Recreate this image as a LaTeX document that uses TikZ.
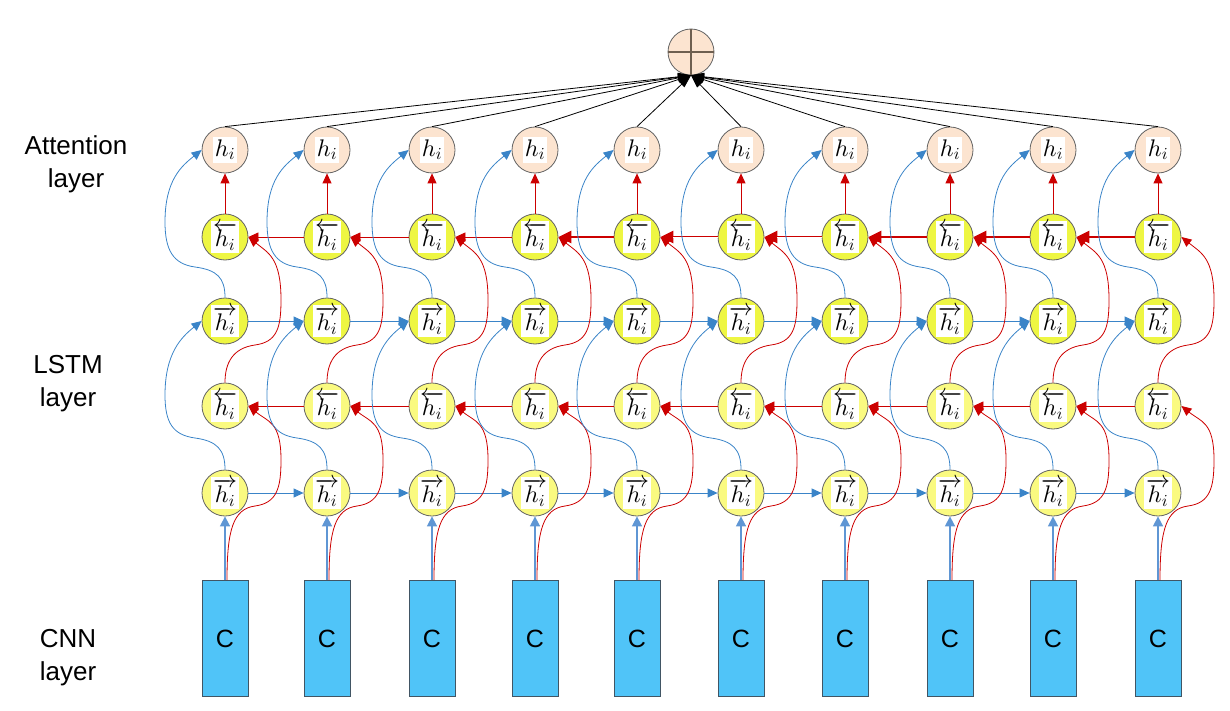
\documentclass[tikz,border=0pt]{standalone}
\usepackage{fontspec}
\newfontfamily\arialf{Liberation Sans}
\usetikzlibrary{arrows.meta,calc}

% scalable math fonts for the large state labels
\DeclareFontShape{OML}{cmm}{m}{it}{<->cmmi10}{}
\DeclareFontShape{OMS}{cmsy}{m}{n}{<->cmsy10}{}
\DeclareFontShape{OT1}{cmr}{m}{n}{<->cmr10}{}
\DeclareFontShape{OMX}{cmex}{m}{n}{<->cmex10}{}

\definecolor{attfill}{RGB}{252,228,208}
\definecolor{ybright}{RGB}{238,246,66}
\definecolor{ylight}{RGB}{250,250,128}
\definecolor{cnnfill}{RGB}{80,196,248}
\definecolor{cnnline}{RGB}{65,85,100}
\definecolor{edgeblue}{RGB}{58,132,200}
\definecolor{vertblue}{RGB}{95,150,212}
\definecolor{edgered}{RGB}{204,0,0}
\definecolor{nodeline}{RGB}{100,100,100}
\definecolor{plusline}{RGB}{110,95,80}

% white label box inside the state circles
\newcommand{\whitelab}[1]{{\setlength{\fboxsep}{2pt}\colorbox{white}{\rule[-4.5pt]{0pt}{21pt}$#1$}}}

\tikzset{
  statenode/.style={circle, draw=nodeline, line width=0.8pt, minimum size=46pt,
    inner sep=0pt, font=\fontsize{24}{28}\selectfont},
  attn/.style={statenode, fill=attfill},
  lstmtop/.style={statenode, fill=ybright},
  lstmbot/.style={statenode, fill=ylight},
  cnnbox/.style={rectangle, draw=cnnline, line width=0.8pt, fill=cnnfill,
    minimum width=46pt, minimum height=116pt, inner sep=0pt,
    font=\arialf\fontsize{25}{30}\selectfont},
  layerlabel/.style={align=center, font=\arialf\fontsize{26}{33}\selectfont},
  bluearrow/.style={edgeblue, line width=0.8pt, -{Triangle[length=10pt,width=9pt]}},
  bluevert/.style={vertblue, line width=1.6pt, -{Triangle[length=10pt,width=10pt]}},
  redarrow/.style={edgered, line width=0.8pt, -{Triangle[length=10pt,width=9pt]}},
  redthick/.style={edgered, line width=2.4pt, -{Triangle[length=13pt,width=12pt]}},
  redinner/.style={white, line width=0.9pt, shorten >=13pt},
  blackarrow/.style={black, line width=0.8pt, -{Triangle[length=13pt,width=8pt]}},
}

\begin{document}
\begin{tikzpicture}[x=1pt,y=-1pt]
\path[use as bounding box] (0,0) rectangle (1230,711);

% summation node on top
\node[attn, minimum size=46pt] (plus) at (691,52) {};
\draw[plusline, line width=1.6pt] (plus.north) -- (plus.south) (plus.west) -- (plus.east);

% layer names
\node[layerlabel] (lab-att) at (76,164) {Attention\\layer};
\node[layerlabel] (lab-lstm) at (68,384) {LSTM\\layer};
\node[layerlabel] (lab-cnn) at (68,658) {CNN\\layer};

% columns of units
\foreach \i/\x in {1/225,2/327,3/432,4/535,5/637,6/741,7/845,8/950,9/1053,10/1158} {
  \node[attn]    (att-\i) at (\x,150) {\whitelab{h_i}};
  \node[lstmtop] (b2-\i)  at (\x,237) {\whitelab{\overleftarrow{h_i}}};
  \node[lstmtop] (f2-\i)  at (\x,321) {\whitelab{\overrightarrow{h_i}}};
  \node[lstmbot] (b1-\i)  at (\x,406) {\whitelab{\overleftarrow{h_i}}};
  \node[lstmbot] (f1-\i)  at (\x,493) {\whitelab{\overrightarrow{h_i}}};
  \node[cnnbox]  (cnn-\i) at (\x,638.5) {C};
}

% recurrent connections along each row
\foreach \i [evaluate=\i as \j using int(\i+1)] in {1,...,9} {
  \draw[bluearrow] (f1-\i) -- (f1-\j);
  \draw[bluearrow] (f2-\i) -- (f2-\j);
  \draw[redarrow]  (b1-\j) -- (b1-\i);
}
\foreach \i/\j in {1/2,2/3,3/4}
  \draw[redarrow] (b2-\j) -- (b2-\i);
\foreach \i/\j in {4/5,7/8,8/9,9/10}
  \draw[redthick] (b2-\j) -- (b2-\i);
\foreach \i/\j in {5/6,6/7} {
  \draw[redthick, line width=2.8pt] (b2-\j) -- (b2-\i);
  \draw[redinner] (b2-\j) -- (b2-\i);
}

% vertical connections inside each column
\foreach \i/\x in {1/225,2/327,3/432,4/535,5/637,6/741,7/845,8/950,9/1053,10/1158} {
  \draw[bluevert] (cnn-\i) -- (f1-\i);
  \draw[redarrow] (b2-\i) -- (att-\i);
  % forward stack: bend to the left
  \draw[bluearrow] (f1-\i.north) .. controls +(0,-20) and +(22,3) .. (\x-30,438)
        .. controls +(-22,-3) and +(0,28) .. (\x-60,395)
        .. controls +(0,-42) and +(-20,16) .. (f2-\i.west);
  \draw[bluearrow] (f2-\i.north) .. controls +(0,-20) and +(22,3) .. (\x-30,267)
        .. controls +(-22,-3) and +(0,28) .. (\x-60,222)
        .. controls +(0,-42) and +(-20,16) .. (att-\i.west);
  % backward stack: bend to the right
  \draw[redarrow] ([xshift=2pt]cnn-\i.north) .. controls +(0,-50) and +(-22,3) .. (\x+30,506)
        .. controls +(22,-3) and +(0,28) .. (\x+56,460)
        .. controls +(0,-38) and +(20,16) .. (b1-\i.east);
  \draw[redarrow] (b1-\i.north) .. controls +(0,-20) and +(-22,3) .. (\x+30,345)
        .. controls +(22,-3) and +(0,28) .. (\x+56,300)
        .. controls +(0,-42) and +(20,16) .. (b2-\i.east);
  % attention outputs into the sum
  \draw[blackarrow] (att-\i.north) -- (plus.south);
}
\end{tikzpicture}
\end{document}
